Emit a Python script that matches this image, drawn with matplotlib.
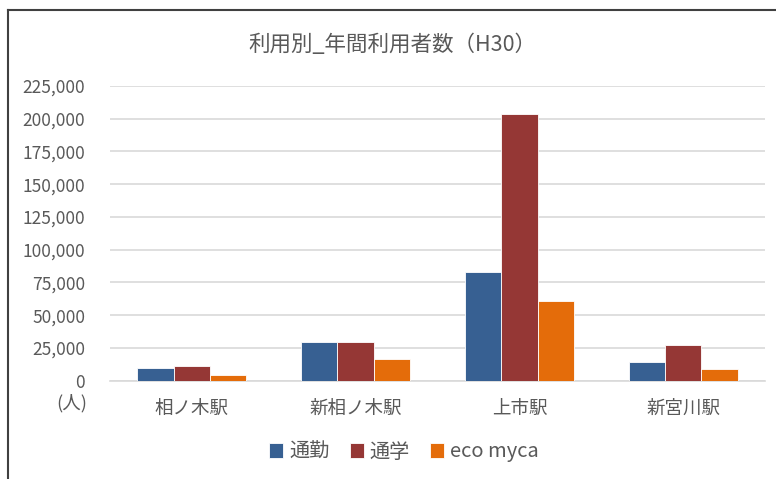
import numpy as np
import matplotlib as mpl
import matplotlib.pyplot as plt
from matplotlib.lines import Line2D

# data
stations = ['相ノ木駅', '新相ノ木駅', '上市駅', '新宮川駅']
series = ['通勤', '通学', 'eco myca']
commute = [9800, 29800, 83000, 14200]
school = [10900, 29800, 204000, 27400]
ecomyca = [4600, 16300, 60500, 8900]
yticks = np.arange(0, 225001, 25000)

colors = ['#376092', '#953735', '#E46C0A']

mpl.rcParams['font.family'] = ['Noto Sans CJK JP', 'DejaVu Sans']

fig = plt.figure(figsize=(7.76, 4.79), dpi=100)
ax = fig.add_axes([110/776, 1-380.7/479, (765-110)/776, (380.7-86)/479])

x = np.arange(len(stations))
w = 1/4.5
for i, (vals, name) in enumerate(zip([commute, school, ecomyca], series)):
  ax.bar(x + (i-1)*w, vals, width=w, color=colors[i], label=name,
         edgecolor='white', linewidth=0.6, zorder=3)

ax.set_xlim(-0.5, len(stations)-0.5)
ax.set_ylim(0, 225000)
ax.set_yticks(yticks)
ax.set_yticklabels([f'{v:,}' for v in yticks])
ax.set_xticks(x)
ax.set_xticklabels(stations)
ax.yaxis.grid(True, color='#D9D9D9', linewidth=1.2, zorder=0)
for s in ['top', 'right', 'left']:
  ax.spines[s].set_visible(False)
ax.spines['bottom'].set_color('#D9D9D9')
ax.spines['bottom'].set_linewidth(1.2)
ax.tick_params(axis='both', length=0, colors='#595959')
ax.tick_params(axis='y', labelsize=12.5, pad=18)
ax.tick_params(axis='x', labelsize=13.3, pad=14)

fig.text(392/776, 1-45/479, '利用別_年間利用者数（H30）', ha='center', va='center',
         fontsize=15.5, color='#595959')
fig.text(72/776, 1-403/479, '(人)', ha='center', va='center', fontsize=13.3, color='#595959')

leg = fig.legend(loc='center', bbox_to_anchor=(404/776, 1-452/479), ncol=3, frameon=False,
                 fontsize=14.5, handlelength=0.7, handleheight=0.7, handletextpad=0.3,
                 columnspacing=1.0, labelcolor='#595959')

# chart border (only left and top visible in the crop)
fig.add_artist(Line2D([8/776, 8/776], [0, 1-10/479], transform=fig.transFigure, color='#404040', lw=1.5))
fig.add_artist(Line2D([8/776, 1], [1-10/479, 1-10/479], transform=fig.transFigure, color='#404040', lw=1.5))

fig.savefig('out.png', dpi=100)
